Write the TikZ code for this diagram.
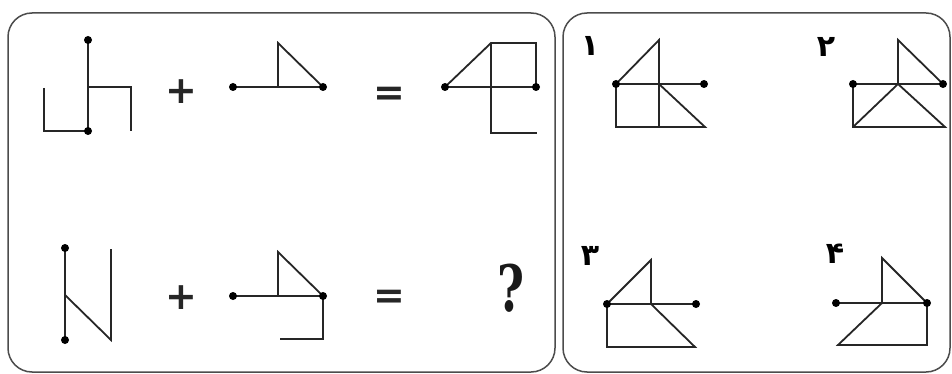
\documentclass[tikz,border=0pt]{standalone}
\usepackage{fontspec}
\newfontfamily\pfont[Script=Arabic]{DejaVu Sans}
\newfontfamily\symfont{DejaVu Sans}
\newfontfamily\qfont{DejaVu Serif}
\TeXXeTstate=1
\begin{document}
\begin{tikzpicture}[x=1pt,y=-1pt,
  fig/.style={line width=1.8pt, draw=black!85, line cap=butt, line join=miter},
  dotnode/.style={circle, fill=black, inner sep=0pt, minimum size=8pt},
  panel/.style={draw=black!70, line width=1.5pt, rounded corners=24pt},
  opsym/.style={inner sep=0pt, font=\symfont\bfseries\fontsize{38}{38}\selectfont, text=black!85},
  numlabel/.style={inner sep=0pt, font=\pfont\bfseries\fontsize{30}{30}\selectfont}]
\useasboundingbox (0,0) rectangle (952,374);
\fill[white] (0,0) rectangle (952,374);
% panels
\draw[panel] (8,13) rectangle (555,372);
\draw[panel] (563,13) rectangle (950,372);

% ---------- Figure A ----------
\coordinate (a1) at (88,40);
\coordinate (a2) at (88,131);
\draw[fig] (a1) -- (a2);
\draw[fig] (44,88) -- (44,131) -- (a2);
\draw[fig] (88,87) -- (131,87) -- (131,131);
\node[dotnode] at (a1) {};
\node[dotnode] at (a2) {};

\node[opsym] (plus1) at (181,92) {+};

% ---------- Figure B ----------
\coordinate (b1) at (233,87);
\coordinate (b2) at (323,87);
\draw[fig] (b1) -- (b2);
\draw[fig] (278,87) -- (278,43) -- (b2);
\node[dotnode] at (b1) {};
\node[dotnode] at (b2) {};

\node[opsym] (eq1) at (389,96) {=};

% ---------- Figure C ----------
\coordinate (c1) at (445,87);
\coordinate (c2) at (536,87);
\draw[fig] (c1) -- (c2);
\draw[fig] (c1) -- (491,43) -- (536,43) -- (c2);
\draw[fig] (491,43) -- (491,133) -- (537,133);
\node[dotnode] at (c1) {};
\node[dotnode] at (c2) {};

% ---------- Figure D ----------
\coordinate (d1) at (65,248);
\coordinate (d2) at (65,340);
\draw[fig] (d1) -- (d2);
\draw[fig] (65,295) -- (111,340) -- (111,249);
\node[dotnode] at (d1) {};
\node[dotnode] at (d2) {};

\node[opsym] (plus2) at (181,298) {+};

% ---------- Figure E ----------
\coordinate (e1) at (233,296);
\coordinate (e2) at (323,296);
\draw[fig] (e1) -- (e2);
\draw[fig] (278,296) -- (278,252) -- (e2) -- (323,339) -- (280,339);
\node[dotnode] at (e1) {};
\node[dotnode] at (e2) {};

\node[opsym] (eq2) at (389,299) {=};
\node[inner sep=0pt, text=black!90] (qm) at (511,288)
  {\scalebox{0.72}[1]{\qfont\bfseries\fontsize{64}{64}\selectfont ?}};

% ---------- Option 1 ----------
\node[numlabel] (n1) at (590,46) {\beginR ۱\endR};
\coordinate (p1a) at (616,84);
\coordinate (p1b) at (704,84);
\draw[fig] (p1a) -- (p1b);
\draw[fig] (p1a) -- (659,40) -- (659,127);
\draw[fig] (p1a) -- (616,127) -- (705,127) -- (659,84);
\node[dotnode] at (p1a) {};
\node[dotnode] at (p1b) {};

% ---------- Option 2 ----------
\node[numlabel] (n2) at (826,47) {\beginR ۲\endR};
\coordinate (p2a) at (853,84);
\coordinate (p2b) at (943,84);
\draw[fig] (p2a) -- (p2b);
\draw[fig] (898,84) -- (898,40) -- (p2b);
\draw[fig] (p2a) -- (853,127) -- (945,127) -- (898,84) -- (853,127);
\node[dotnode] at (p2a) {};
\node[dotnode] at (p2b) {};

% ---------- Option 3 ----------
\node[numlabel] (n3) at (590,256) {\beginR ۳\endR};
\coordinate (p3a) at (607,304);
\coordinate (p3b) at (696,304);
\draw[fig] (p3a) -- (p3b);
\draw[fig] (p3a) -- (651,260) -- (651,304) -- (695,347) -- (607,347) -- (p3a);
\node[dotnode] at (p3a) {};
\node[dotnode] at (p3b) {};

% ---------- Option 4 ----------
\node[numlabel] (n4) at (835,254) {\beginR ۴\endR};
\coordinate (p4a) at (836,303);
\coordinate (p4b) at (927,303);
\draw[fig] (p4a) -- (p4b);
\draw[fig] (882,303) -- (882,258) -- (p4b) -- (927,345) -- (838,345) -- (882,303);
\node[dotnode] at (p4a) {};
\node[dotnode] at (p4b) {};
\end{tikzpicture}
\end{document}
